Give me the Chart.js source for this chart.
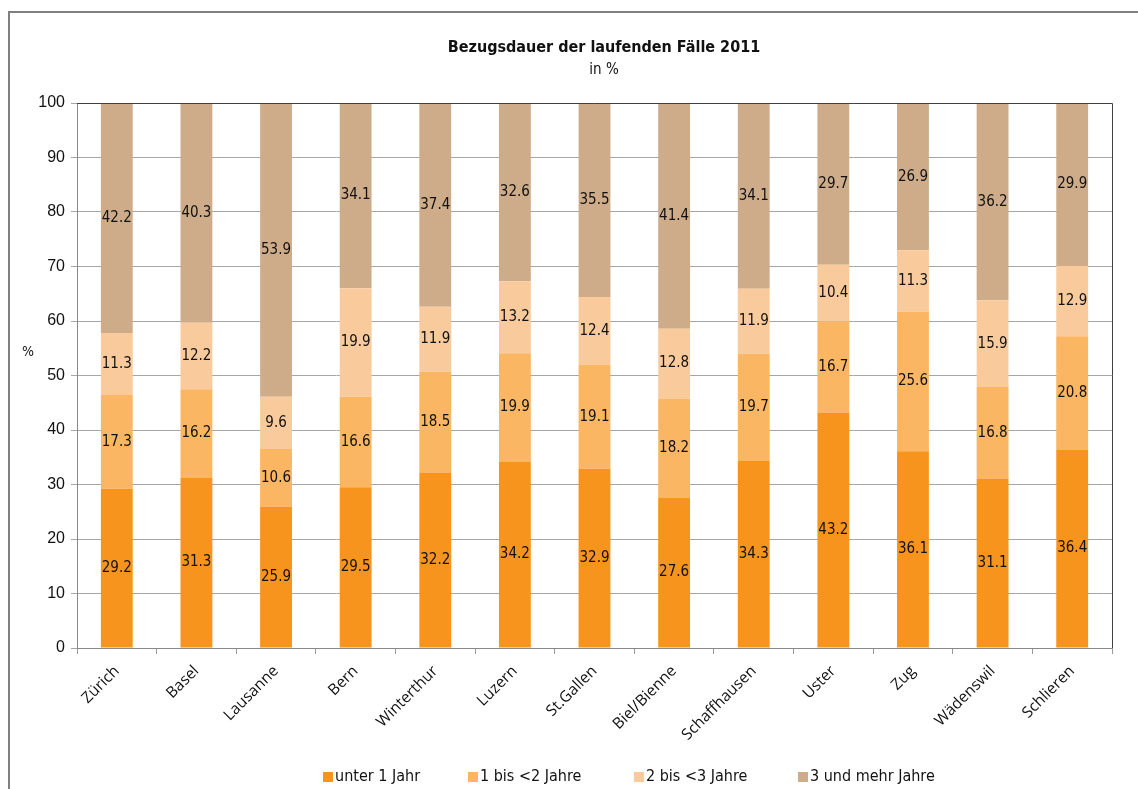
<!DOCTYPE html>
<html><head><meta charset="utf-8">
<script src="https://cdn.jsdelivr.net/npm/chart.js@4.4.1/dist/chart.umd.min.js"></script>
<style>html,body{margin:0;padding:0;background:#fff;}canvas{display:block;}</style>
</head><body>
<canvas id="c" width="1138" height="789"></canvas>
<script>
const categories = ["Zürich","Basel","Lausanne","Bern","Winterthur","Luzern","St.Gallen","Biel/Bienne","Schaffhausen","Uster","Zug","Wädenswil","Schlieren"];
const unter1 = [29.2,31.3,25.9,29.5,32.2,34.2,32.9,27.6,34.3,43.2,36.1,31.1,36.4];
const bis2 = [17.3,16.2,10.6,16.6,18.5,19.9,19.1,18.2,19.7,16.7,25.6,16.8,20.8];
const bis3 = [11.3,12.2,9.6,19.9,11.9,13.2,12.4,12.8,11.9,10.4,11.3,15.9,12.9];
const mehr3 = [42.2,40.3,53.9,34.1,37.4,32.6,35.5,41.4,34.1,29.7,26.9,36.2,29.9];
const seriesNames = ["unter 1 Jahr","1 bis <2 Jahre","2 bis <3 Jahre","3 und mehr Jahre"];
const yTicks = [0,10,20,30,40,50,60,70,80,90,100];

const colors = ["#F7941E","#FBB664","#F9CB9C","#CEAC8A"];
const condensed = "'Liberation Sans Narrow','DejaVu Sans Condensed','Roboto Condensed',sans-serif";
const legendX = [323,468,634,798];

const decor = {
  id:'decor',
  beforeDraw(chart){
    const ctx=chart.ctx;
    ctx.save();
    ctx.strokeStyle='#808080'; ctx.lineWidth=2;
    ctx.beginPath(); ctx.moveTo(9,789); ctx.lineTo(9,12); ctx.lineTo(1138,12); ctx.stroke();
    ctx.restore();
  },
  afterDatasetsDraw(chart){
    const ctx=chart.ctx, a=chart.chartArea;
    ctx.save();
    ctx.strokeStyle='#404040'; ctx.lineWidth=1;
    ctx.beginPath(); ctx.moveTo(a.left,a.top+0.5); ctx.lineTo(a.right+0.5,a.top+0.5); ctx.lineTo(a.right+0.5,a.bottom); ctx.stroke();
    ctx.fillStyle='#111'; ctx.font="15px "+condensed; ctx.textAlign='center'; ctx.textBaseline='middle';
    chart.data.datasets.forEach((ds,i)=>{
      const meta=chart.getDatasetMeta(i);
      meta.data.forEach((el,j)=>{
        ctx.fillText(ds.data[j].toFixed(1), el.x, (el.y+el.base)/2);
      });
    });
    ctx.font="bold 16px "+condensed;
    ctx.fillText("Bezugsdauer der laufenden Fälle 2011",604,48);
    ctx.font="15px "+condensed;
    ctx.fillText("in %",604,70);
    ctx.font="14px "+condensed;
    ctx.fillText("%",28,352);
    // legend
    ctx.textAlign='left';
    ctx.font="16px "+condensed;
    chart.data.datasets.forEach((ds,i)=>{
      ctx.fillStyle=ds.backgroundColor;
      ctx.fillRect(legendX[i],772,10,10);
      ctx.fillStyle='#111';
      ctx.fillText(ds.label, legendX[i]+12, 777);
    });
    ctx.restore();
  }
};

new Chart(document.getElementById('c'),{
  type:'bar',
  data:{
    labels:categories,
    datasets:[unter1,bis2,bis3,mehr3].map((d,i)=>({label:seriesNames[i],data:d,backgroundColor:colors[i],borderWidth:0,barPercentage:0.4,categoryPercentage:1}))
  },
  options:{
    responsive:false, animation:false,
    layout:{padding:{left:0,right:26,top:103,bottom:30}},
    plugins:{
      legend:{display:false},
      tooltip:{enabled:false},
      title:{display:false}
    },
    scales:{
      x:{stacked:true,
        grid:{display:true,drawOnChartArea:false,offset:true,color:'#999',tickLength:6},
        border:{color:'#888'},
        ticks:{minRotation:45,maxRotation:45,color:'#111',font:{family:"'Open Sans',sans-serif",size:15.5},padding:8},
        afterFit(s){s.height=111;}
      },
      y:{stacked:true,min:0,max:100,
        afterBuildTicks(s){s.ticks=yTicks.map(v=>({value:v}));},
        grid:{color:'#a6a6a6',tickLength:6},
        border:{color:'#888'},
        ticks:{color:'#111',font:{family:"'Liberation Sans',Arial,sans-serif",size:16},padding:6},
        afterFit(s){s.width=77;}
      }
    }
  },
  plugins:[decor]
});
</script>
</body></html>
